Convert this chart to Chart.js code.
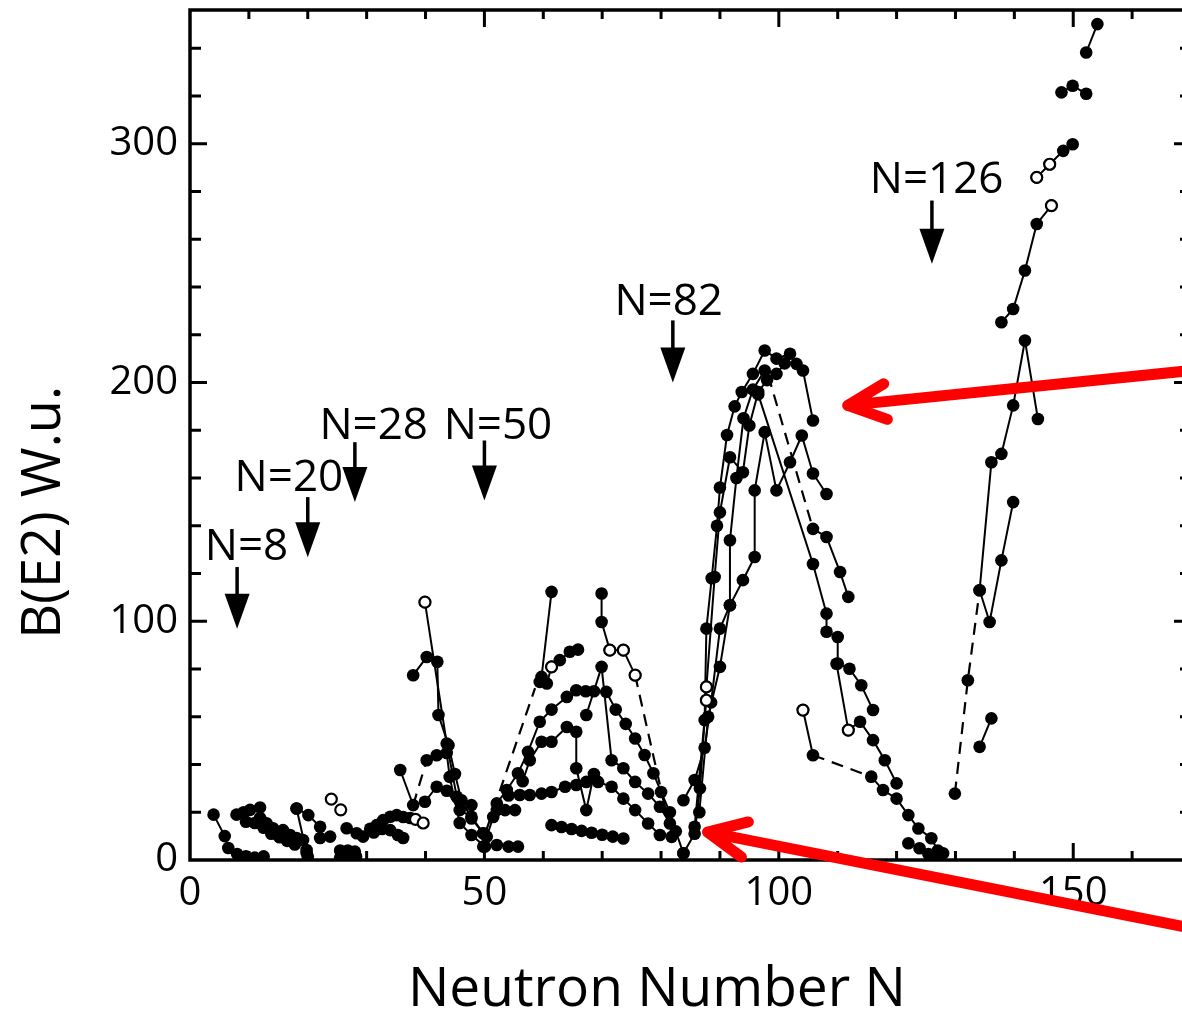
<!DOCTYPE html>
<html>
<head>
<meta charset="utf-8">
<title>B(E2) vs Neutron Number</title>
<script src="https://cdn.jsdelivr.net/npm/chart.js@4.4.1/dist/chart.umd.min.js"></script>
<style>
  html, body { margin: 0; padding: 0; background: #fff; overflow: hidden; }
  #wrap { width: 1182px; height: 1018px; overflow: hidden; }
</style>
</head>
<body>
<div id="wrap"><canvas id="be2Chart" width="1200" height="1018"></canvas></div>
<script>
// ====== DADOS: B(E2) em W.u. por cadeia isotópica [N, B(E2)] ======
const xTickLabels = [0, 50, 100, 150];
const yTickLabels = [0, 100, 200, 300];

// núcleos leves
const chainA1 = [[4, 19], [5.9, 10], [6.5, 5], [8, 2.5], [9.5, 1.5], [11, 1], [12.5, 1.5]];
const chainA2 = [[7.9, 19], [9.1, 20], [10.2, 21], [11.9, 22], [11.9, 17.6], [13, 15.4], [14.1, 13.3], [15.8, 12.5], [17, 10.5], [18.1, 9.2], [19.2, 8.4], [19.8, 4.2], [20, 1.5]];
const chainA3 = [[9.5, 16], [11, 15.5], [12.5, 13.5], [13.8, 11], [15.2, 9.5], [16.5, 8], [17.8, 6.5]];
const chainA4 = [[18.1, 21.6], [20.1, 18.8], [22.1, 13.9], [22.1, 9.2], [23.8, 9.8]];
const chainA5 = [[18.1, 21.6], [19.8, 3]];
const chainA6 = [[25.5, 4], [26.8, 4], [28, 3.5]];
const chainA7 = [[25.5, 1], [27, 0.8], [28.2, 1.5]];
const chainA8 = [[26.6, 13.3], [28.3, 11.2], [29.4, 9.8], [30.6, 13.1], [31.7, 14.6], [32.8, 16.7], [34, 18.1], [35.1, 18.8], [36.2, 18], [37.4, 17.6]];
const chainA9 = [[31.2, 11.5], [32.6, 13], [34, 12.5], [35.3, 10.5], [36.2, 9.2]];

// região N = 36-56
const chainB1 = [[37.9, 77.4], [40.2, 85], [42, 83], [42.2, 60.7], [43.9, 48.1], [45, 36], [46.1, 25], [47.8, 17.4], [49.8, 11.2]];
const chainB2 = [[39.9, 108], [43.6, 48.8], [45.3, 26.5], [47.8, 23]];
const chainB3 = [[35.7, 37.7], [37.9, 23], [39.9, 24.4], [41.9, 30.7], [43.6, 29], [45.8, 20.9], [47.8, 18.1], [49.8, 11.2], [49.8, 5.6]];
const chainB4 = [[40.2, 41.8], [41.9, 43.9], [43.6, 44.8], [44.1, 34.8], [45.8, 15.5], [47.8, 10.5], [50.1, 5.6], [52.1, 6.3], [54.1, 5.6], [55.7, 5.6]];

// região N = 50-84
const chainC1 = [[59.4, 74.6], [60.6, 73.9], [61.4, 80.9], [62.8, 83.7], [64.5, 87.2], [65.9, 88.1]];
const chainC2 = [[61.4, 112.3], [59.7, 76.7]];
const chainC3 = [[69.9, 111.6], [69.9, 99.7], [71.3, 87.9], [73.6, 87.9], [75.6, 77.4]];
const chainC4 = [[50.4, 9.8], [51.5, 18], [52.1, 23.7], [53.8, 29.3], [55.7, 36.3], [57.4, 45.3], [59.4, 57.9], [61.4, 63], [64, 68.3], [65.6, 71.1], [67.2, 70.7], [68.6, 70.7], [70.7, 70.4], [72.3, 63], [74, 57], [75.6, 50.9], [77.2, 44], [78.7, 36.3], [80, 28.5], [81.5, 20], [82.5, 12], [83.8, 2.8]];
const chainC5 = [[67.3, 60.7], [69.9, 80.9], [71.6, 41.8], [73.6, 38.4], [75.6, 32.7], [77.8, 27.8], [79.8, 22.3], [81.5, 15.3]];
const chainC6 = [[56.5, 33], [57.7, 41.8], [59.7, 49.5], [61.4, 49.5], [64, 55.7], [65.6, 53.7], [65.6, 38.4], [67.3, 20.9], [68.6, 36]];
const chainC7 = [[54.1, 27], [56, 27.2], [57.7, 27.2], [59.7, 27.8], [61.4, 28.5], [63.7, 30.7], [65.6, 31.4], [67.3, 32.7], [69.3, 32.7], [71.6, 30.7], [73.6, 25.7], [75.6, 20.9], [77.8, 15.3], [79.8, 10.5], [81.8, 9.7]];
const chainC8 = [[61.4, 14.6], [63.1, 13.8], [64.8, 13], [66.5, 12.2], [68.2, 11.4], [70, 10.6], [71.8, 9.8], [73.6, 9]];
const chainC9 = [[52.1, 20.9], [53.5, 20.9], [55.2, 20.9]];

// região N = 82-128
const chainD1 = [[83.8, 2.8], [85.7, 11], [86.6, 30], [87.4, 58.6], [87.7, 96.9], [88.6, 118], [89.5, 140], [90, 156], [91.2, 178], [92.5, 190], [93.7, 196], [95.6, 203.6], [97.6, 213.4], [99.6, 210], [101.9, 212], [103, 207.8], [104.1, 205], [105.8, 184.1]];
const chainD2 = [[83.8, 25], [85.7, 33.5], [87.4, 47], [88.5, 66], [90, 96.9], [91.7, 106.7], [91.7, 133.9], [92.8, 160], [94, 185], [95.6, 197], [97.6, 205], [99.6, 203.6], [101, 208]];
const chainD3 = [[86.5, 20], [88, 60], [90, 80.9], [91.7, 106.7], [93.9, 117.2], [95.9, 126.9], [95.9, 154.8], [97.6, 179.2], [99.6, 154.8], [101.9, 166.6], [103.9, 177.8], [105.8, 161.9], [108.1, 153.3]];
const chainD4 = [[85.7, 13.9], [87.7, 66.9], [87.7, 72.5], [89.1, 118.5], [90, 145.6], [91.7, 168.7], [93.9, 162.4], [95, 182], [96.5, 196], [98, 201]];
const chainD5 = [[96.5, 195], [105.8, 124], [108.1, 103.2], [108.1, 95.6], [110, 93.4], [110, 82.3], [112, 80.1], [114, 73.2], [116, 62.8]];
const chainD6 = [[105.8, 138.7], [108.1, 135.3], [110.4, 120.6], [111.8, 110.2]];
const chainD7 = [[109.8, 82.2], [111.8, 54.4], [113.8, 57.9], [116, 50.2], [118, 41.8], [120, 32.1]];
const chainD8 = [[104.1, 62.8], [105.8, 43.9]];
const chainD9 = [[115.7, 34.9], [117.7, 29.3], [120, 25.7], [122, 18.8], [123.7, 13.2], [125.9, 9.1], [127, 4]];
const chainD10 = [[122, 7], [123.9, 4.9], [125.4, 2.5], [126.6, 1.5], [127.9, 2.8]];

// núcleos pesados
const chainE1 = [[134.1, 113], [135.8, 99.7], [137.8, 125.5], [139.8, 149.9]];
const chainE2 = [[134.1, 113], [136.1, 166.6], [137.8, 170.1], [139.8, 190.4], [141.8, 217.6], [144, 184.7]];
const chainE3 = [[134.1, 47.4], [136.1, 59.3]];
const chainE4 = [[137.8, 225.2], [139.8, 230.8], [141.8, 246.9], [143.8, 266.4], [146.3, 274.1]];
const chainE5 = [[143.8, 285.9], [146, 291.4], [148.3, 297], [149.9, 299.8]];
const chainE6 = [[148, 321.5], [149.9, 324.3], [152.2, 320.9]];
const chainE7 = [[152.2, 338.2], [154.1, 350.1]];

// pontos isolados, pontos abertos e ligações tracejadas
const loosePoints = [[129.9, 27.8], [132.1, 75.3]];
const openPoints = [[39.9, 108], [61.4, 80.9], [71.3, 87.9], [73.6, 87.9], [75.6, 77.4], [87.7, 72.5], [87.7, 66.9], [104.1, 62.8], [111.8, 54.4], [143.8, 285.9], [146.3, 274.1], [146, 291.4], [24, 25.5], [25.6, 21], [38.3, 17], [39.6, 15.5]];
const dashedLinks = [
    [[50.4, 13], [58.6, 72]],
    [[75.6, 77.4], [80.9, 19.5]],
    [[98.2, 203], [105.8, 138.7]],
    [[105.8, 43.9], [115.7, 34.9]],
    [[129.9, 27.8], [132.1, 75.3], [134.1, 113]],
    [[37.9, 23], [40.2, 41.8]]
];

// camadas fechadas (setas pretas)
const shellClosures = [8, 20, 28, 50, 82, 126];
const shellLabels = ['N=8', 'N=20', 'N=28', 'N=50', 'N=82', 'N=126'];
const shellArrowTop = [122.7, 152, 175, 175.7, 226, 276.2];
const shellArrowTip = [96.9, 126.8, 149.9, 150.6, 200, 249.7];
const shellLabelX = [9.6, 16.8, 31.2, 52.3, 81.3, 126.8];
const shellLabelY = [130.8, 159.8, 181.4, 181.6, 233.5, 284.5];

// setas vermelhas
const redArrowTips = [[111.7, 190.4], [87.9, 11.7]];
const redArrowTails = [[172, 205.5], [172, -29.5]];

const chains = [chainA1, chainA2, chainA3, chainA4, chainA5, chainA6, chainA7, chainA8, chainA9,
    chainB1, chainB2, chainB3, chainB4,
    chainC1, chainC2, chainC3, chainC4, chainC5, chainC6, chainC7, chainC8, chainC9,
    chainD1, chainD2, chainD3, chainD4, chainD5, chainD6, chainD7, chainD8, chainD9, chainD10,
    chainE1, chainE2, chainE3, chainE4, chainE5, chainE6, chainE7];

const toXY = arr => arr.map(([x, y]) => ({ x, y }));

const datasets = [];

// pontos abertos por cima de tudo
datasets.push({
    data: toXY(openPoints),
    showLine: false,
    pointRadius: 5.5,
    pointBackgroundColor: '#FFFFFF',
    pointBorderColor: '#000000',
    pointBorderWidth: 2.2,
    order: -1
});

chains.forEach(c => {
    datasets.push({
        data: toXY(c),
        showLine: true,
        borderColor: '#000000',
        borderWidth: 2,
        pointRadius: 6.3,
        pointBackgroundColor: '#000000',
        pointBorderWidth: 0
    });
});

dashedLinks.forEach(d => {
    datasets.push({
        data: toXY(d),
        showLine: true,
        borderColor: '#000000',
        borderWidth: 2.2,
        borderDash: [12, 8],
        pointRadius: 0
    });
});

datasets.push({
    data: toXY(loosePoints),
    showLine: false,
    pointRadius: 6.3,
    pointBackgroundColor: '#000000',
    pointBorderWidth: 0
});

// ====== MOLDURA COM TICKS PARA DENTRO ======
const framePlugin = {
    id: 'frame',
    afterDatasetsDraw(chart) {
        const { ctx, chartArea: a, scales: { x, y } } = chart;
        ctx.save();
        ctx.strokeStyle = '#000';
        ctx.lineWidth = 3;
        ctx.beginPath();
        for (let n = 10; n < x.max; n += 10) {
            const px = x.getPixelForValue(n);
            const len = n % 50 === 0 ? 17 : 9;
            ctx.moveTo(px, a.bottom); ctx.lineTo(px, a.bottom - len);
            ctx.moveTo(px, a.top); ctx.lineTo(px, a.top + len);
        }
        for (let b = 20; b < y.max; b += 20) {
            const py = y.getPixelForValue(b);
            const len = b % 100 === 0 ? 17 : 11;
            ctx.moveTo(a.left, py); ctx.lineTo(a.left + len, py);
            ctx.moveTo(a.right, py); ctx.lineTo(a.right - len, py);
        }
        ctx.stroke();
        ctx.lineWidth = 3.5;
        ctx.strokeRect(a.left, a.top, a.right - a.left, a.bottom - a.top);
        ctx.restore();
    }
};

// ====== ANOTAÇÕES: títulos, camadas fechadas, setas vermelhas ======
const notesPlugin = {
    id: 'notes',
    afterDraw(chart) {
        const { ctx, chartArea: a, scales: { x, y } } = chart;
        ctx.save();
        ctx.fillStyle = '#000';
        ctx.strokeStyle = '#000';
        ctx.textAlign = 'center';
        ctx.textBaseline = 'middle';

        // títulos dos eixos
        ctx.font = "55px 'Open Sans'";
        ctx.fillText('Neutron Number N', x.getPixelForValue(79.3), a.bottom + 130);
        ctx.save();
        ctx.translate(a.left - 145, y.getPixelForValue(145.6));
        ctx.rotate(-Math.PI / 2);
        ctx.font = "54px 'Open Sans'";
        ctx.fillText('B(E2) W.u.', 0, 0);
        ctx.restore();

        // setas das camadas fechadas
        ctx.font = "44px 'Open Sans'";
        shellClosures.forEach((n, i) => {
            ctx.fillText(shellLabels[i], x.getPixelForValue(shellLabelX[i]), y.getPixelForValue(shellLabelY[i]));
            const px = x.getPixelForValue(n);
            const top = y.getPixelForValue(shellArrowTop[i]);
            const tip = y.getPixelForValue(shellArrowTip[i]);
            const head = 35;
            ctx.lineWidth = 3.5;
            ctx.beginPath();
            ctx.moveTo(px, top);
            ctx.lineTo(px, tip - head + 2);
            ctx.stroke();
            ctx.beginPath();
            ctx.moveTo(px - 12.5, tip - head);
            ctx.lineTo(px + 12.5, tip - head);
            ctx.lineTo(px, tip);
            ctx.closePath();
            ctx.fill();
        });

        // setas vermelhas
        ctx.strokeStyle = '#FF0000';
        ctx.lineWidth = 11;
        ctx.lineCap = 'round';
        ctx.lineJoin = 'round';
        redArrowTips.forEach((t, i) => {
            const tx = x.getPixelForValue(t[0]);
            const ty = y.getPixelForValue(t[1]);
            const ex = x.getPixelForValue(redArrowTails[i][0]);
            const ey = y.getPixelForValue(redArrowTails[i][1]);
            const ang = Math.atan2(ey - ty, ex - tx);
            const arm = 42;
            const spread = 0.44;
            ctx.beginPath();
            ctx.moveTo(ex, ey);
            ctx.lineTo(tx, ty);
            ctx.moveTo(tx + arm * Math.cos(ang - spread), ty + arm * Math.sin(ang - spread));
            ctx.lineTo(tx, ty);
            ctx.lineTo(tx + arm * Math.cos(ang + spread), ty + arm * Math.sin(ang + spread));
            ctx.stroke();
        });
        ctx.restore();
    }
};

Chart.defaults.font.family = "'Open Sans', sans-serif";
Chart.defaults.color = '#000';

new Chart(document.getElementById('be2Chart'), {
    type: 'scatter',
    data: { datasets },
    options: {
        responsive: false,
        animation: false,
        layout: { padding: { top: 10, right: 9, left: 0, bottom: 0 } },
        plugins: {
            legend: { display: false },
            tooltip: { enabled: false }
        },
        scales: {
            x: {
                type: 'linear',
                min: 0,
                max: 170,
                border: { display: false },
                grid: { display: false, drawTicks: false },
                ticks: { color: '#000', font: { size: 40 }, padding: 10, maxRotation: 0, autoSkip: false },
                afterBuildTicks: axis => { axis.ticks = xTickLabels.map(v => ({ value: v })); },
                afterFit: axis => { axis.height = 158; axis.paddingLeft = 0; axis.paddingRight = 0; }
            },
            y: {
                type: 'linear',
                min: 0,
                max: 356,
                border: { display: false },
                grid: { display: false, drawTicks: false },
                ticks: { color: '#000', font: { size: 40 }, padding: 12, autoSkip: false },
                afterBuildTicks: axis => { axis.ticks = yTickLabels.map(v => ({ value: v })); },
                afterFit: axis => { axis.width = 190; axis.paddingTop = 0; axis.paddingBottom = 0; }
            }
        }
    },
    plugins: [framePlugin, notesPlugin]
});
</script>
</body>
</html>
